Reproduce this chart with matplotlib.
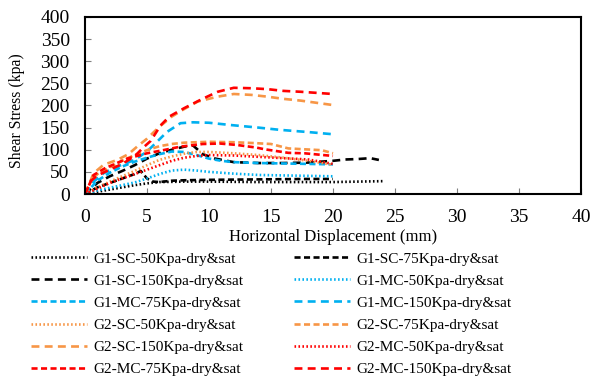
import matplotlib.pyplot as plt

plt.rcParams['font.family'] = ['Liberation Serif', 'DejaVu Serif']

# Shear stress (kpa) vs horizontal displacement (mm)
g1_sc_50_x = [0, 1, 2, 3, 4, 5, 6, 8, 10, 14, 18, 20, 22, 24]
g1_sc_50_y = [0, 5, 10, 15, 20, 24, 27, 28, 28, 27, 27, 27, 28, 29]

g1_sc_75_x = [0, 1, 2, 3, 4, 4.5, 5, 5.5, 6, 7, 8, 10, 14, 18, 20]
g1_sc_75_y = [0, 15, 25, 35, 45, 52, 35, 28, 27, 30, 31, 32, 33, 34, 34]

g1_sc_150_x = [0, 1, 2, 3, 4, 5, 6, 7, 8, 8.7, 9.5, 10.5, 12, 14, 16, 18, 20, 21, 22, 23, 23.7]
g1_sc_150_y = [0, 25, 40, 52, 65, 80, 92, 100, 107, 110, 90, 80, 72, 70, 70, 71, 75, 78, 79, 81, 77]

g1_mc_50_x = [0, 1, 2, 3, 4, 5, 6, 7, 8, 9, 10, 12, 14, 16, 18, 20]
g1_mc_50_y = [0, 8, 14, 20, 26, 35, 45, 53, 55, 53, 50, 46, 43, 42, 41, 40]

g1_mc_75_x = [0, 1, 2, 3, 4, 5, 6, 7, 8, 9, 10, 11, 12, 14, 16, 18, 20]
g1_mc_75_y = [0, 30, 48, 62, 73, 82, 90, 96, 95, 88, 80, 75, 72, 70, 69, 68, 67]

g1_mc_150_x = [0, 0.7, 1.5, 2.6, 4, 5, 5.7, 6.6, 7.7, 8.7, 10, 11.7, 14, 15.7, 18, 20]
g1_mc_150_y = [0, 28, 47, 62, 77, 96, 115, 140, 160, 162, 161, 156, 150, 145, 140, 135]

g2_sc_50_x = [0, 1, 2, 3, 4, 5, 6, 7, 8, 9, 10, 12, 14, 16, 18, 20]
g2_sc_50_y = [0, 15, 28, 40, 52, 65, 77, 85, 91, 95, 95, 92, 88, 82, 75, 66]

g2_sc_75_x = [0, 0.5, 1, 2, 3, 4, 5, 6, 7, 8, 10, 12, 13.7, 15, 16.4, 17.7, 19.1, 20]
g2_sc_75_y = [0, 30, 45, 60, 75, 88, 99, 108, 113, 116, 118, 117, 115, 113, 103, 101, 99, 92]

g2_sc_150_x = [0, 0.7, 1.5, 2.6, 3.5, 4.2, 5, 6, 7, 8, 9.1, 10.7, 12, 13.4, 14.7, 16, 17.4, 20]
g2_sc_150_y = [0, 47, 66, 77, 90, 107, 125, 152, 175, 192, 209, 220, 226, 224, 220, 215, 211, 201]

g2_mc_50_x = [0, 1, 2, 3, 4, 5, 6, 7, 8, 9, 10, 12, 14, 16, 18, 20]
g2_mc_50_y = [0, 12, 25, 35, 45, 55, 65, 75, 82, 86, 88, 87, 84, 81, 78, 68]

g2_mc_75_x = [0, 0.7, 1.6, 3.4, 5, 6.3, 7.7, 9.5, 10.9, 12.2, 13.8, 14.5, 16.4, 17.7, 20]
g2_mc_75_y = [0, 43, 58, 80, 92, 99, 107, 113, 114, 111, 105, 101, 93, 92, 86]

g2_mc_150_x = [0, 0.5, 1, 2, 3, 4, 4.7, 5.3, 6.1, 6.8, 8, 9.4, 10.7, 12, 13.4, 14.7, 16, 17.4, 20]
g2_mc_150_y = [0, 30, 42, 55, 68, 85, 105, 120, 155, 175, 194, 214, 231, 240, 239, 237, 233, 231, 226]

black = 'black'
blue = '#00B0F0'
orange = '#F79646'
red = '#FF0000'

dotted = (0, (0.6, 0.9))
short_dash = (0, (2.3, 1.3))
long_dash = (0, (3, 2))

series = [
    ('G1-SC-50Kpa-dry&sat', g1_sc_50_x, g1_sc_50_y, black, dotted),
    ('G1-SC-75Kpa-dry&sat', g1_sc_75_x, g1_sc_75_y, black, short_dash),
    ('G1-SC-150Kpa-dry&sat', g1_sc_150_x, g1_sc_150_y, black, long_dash),
    ('G1-MC-50Kpa-dry&sat', g1_mc_50_x, g1_mc_50_y, blue, dotted),
    ('G1-MC-75Kpa-dry&sat', g1_mc_75_x, g1_mc_75_y, blue, short_dash),
    ('G1-MC-150Kpa-dry&sat', g1_mc_150_x, g1_mc_150_y, blue, long_dash),
    ('G2-SC-50Kpa-dry&sat', g2_sc_50_x, g2_sc_50_y, orange, dotted),
    ('G2-SC-75Kpa-dry&sat', g2_sc_75_x, g2_sc_75_y, orange, short_dash),
    ('G2-SC-150Kpa-dry&sat', g2_sc_150_x, g2_sc_150_y, orange, long_dash),
    ('G2-MC-50Kpa-dry&sat', g2_mc_50_x, g2_mc_50_y, red, dotted),
    ('G2-MC-75Kpa-dry&sat', g2_mc_75_x, g2_mc_75_y, red, short_dash),
    ('G2-MC-150Kpa-dry&sat', g2_mc_150_x, g2_mc_150_y, red, long_dash),
]

fig = plt.figure(figsize=(5.93, 3.81), dpi=100)
ax = fig.add_axes([0.1433, 0.4908, 0.8365, 0.4646])

handles = []
for label, x, y, color, ls in series:
    h, = ax.plot(x, y, color=color, linestyle=ls, linewidth=1.9, label=label)
    handles.append(h)

ax.set_xlim(0, 40)
ax.set_ylim(0, 400)
ax.set_xticks(range(0, 41, 5))
ax.set_yticks(range(0, 401, 50))
ax.tick_params(direction='in', length=4, width=0.8, color='#7f7f7f', labelsize=14)
ax.tick_params(axis='x', pad=11)
ax.tick_params(axis='y', pad=11)
for s in ax.spines.values():
    s.set_linewidth(1.5)
ax.set_xlabel('Horizontal Displacement (mm)', fontsize=12)
ax.xaxis.set_label_coords(0.5, -0.195)
ax.set_ylabel('Shear Stress (kpa)', fontsize=11.3)
ax.yaxis.set_label_coords(-0.121, 0.469)

# legend reads row-wise in the original, matplotlib fills column-wise
order = list(range(0, 12, 2)) + list(range(1, 12, 2))
fig.legend([handles[i] for i in order], [series[i][0] for i in order],
           ncol=2, frameon=False, fontsize=11, loc='upper center',
           bbox_to_anchor=(0.457, 0.375), handlelength=3.7, columnspacing=3.3,
           labelspacing=0.55, handletextpad=0.4)

fig.savefig('out.png', dpi=100)
